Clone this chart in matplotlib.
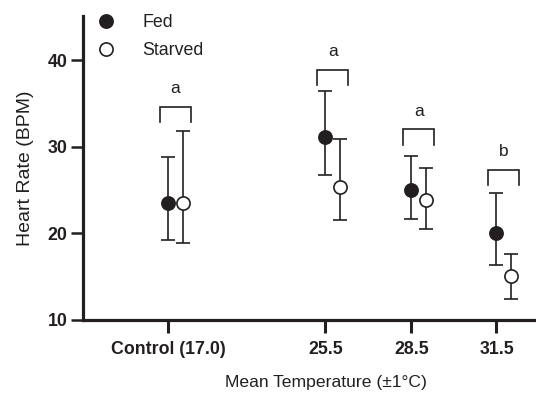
import matplotlib
matplotlib.use("Agg")
import matplotlib.pyplot as plt
from matplotlib.lines import Line2D
import numpy as np

plt.rcParams['font.family'] = ['Liberation Sans', 'DejaVu Sans']

# ---- data ----
categories = ['Control (17.0)', '25.5', '28.5', '31.5']
positions = [0.0, 1.83, 2.83, 3.82]
fed_mean = [23.5, 31.1, 25.0, 20.1]
fed_upper = [28.8, 36.4, 28.9, 24.7]
fed_lower = [19.2, 26.7, 21.7, 16.4]
starved_mean = [23.5, 25.4, 23.9, 15.1]
starved_upper = [31.8, 30.9, 27.6, 17.6]
starved_lower = [18.9, 21.5, 20.5, 12.4]
bracket_top = [34.6, 38.9, 32.0, 27.3]
letters = ['a', 'a', 'a', 'b']
series_names = ['Fed', 'Starved']

INK = '#231f20'
offset = 0.17

fig = plt.figure(figsize=(5.36, 3.99), dpi=100)
ax = fig.add_axes([83 / 536, 1 - 320 / 399, 1 - 83 / 536, (320 - 16) / 399])

pos = np.array(positions)
fm = np.array(fed_mean)
sm = np.array(starved_mean)
fed_err = [fm - np.array(fed_lower), np.array(fed_upper) - fm]
st_err = [sm - np.array(starved_lower), np.array(starved_upper) - sm]

ax.errorbar(pos, fm, yerr=fed_err, fmt='o', color=INK, mfc=INK, mec=INK,
            ms=9.5, mew=1.2, elinewidth=1.2, capsize=4.8, capthick=1.2, zorder=3)
ax.errorbar(pos + offset, sm, yerr=st_err, fmt='o', color=INK, mfc='white', mec=INK,
            ms=9.5, mew=1.2, elinewidth=1.2, capsize=4.8, capthick=1.2, zorder=3)

# significance brackets
for p, top, let in zip(pos, bracket_top, letters):
    x0, x1 = p - 0.095, p + offset + 0.095
    ax.plot([x0, x0, x1, x1], [top - 1.75, top, top, top - 1.75],
            color=INK, lw=1.2, solid_joinstyle='miter')
    ax.text((x0 + x1) / 2, top + 2.1, let, ha='center', va='center',
            fontsize=12.5, color=INK)

ax.set_xlim(-0.99, 4.28)
ax.set_ylim(10, 45.1)
ax.set_xticks(pos)
ax.set_xticklabels(categories, fontweight='bold', fontsize=12.8, color=INK)
ax.set_yticks([10, 20, 30, 40])
ax.set_yticklabels(['10', '20', '30', '40'], fontweight='bold', fontsize=12.8, color=INK)

for s in ['top', 'right']:
    ax.spines[s].set_visible(False)
for s in ['left', 'bottom']:
    ax.spines[s].set_linewidth(2.3)
    ax.spines[s].set_color(INK)
ax.tick_params(axis='y', length=9, width=1.8, pad=2, color=INK)
ax.tick_params(axis='x', length=9, width=2.2, pad=6, color=INK)

ax.set_ylabel('Heart Rate (BPM)', fontsize=14, color=INK, labelpad=10)
fig.text(326 / 536, 1 - 382 / 399, 'Mean Temperature (\u00b11\u00b0C)',
         ha='center', va='center', fontsize=12.6, color=INK)

handles = [
    Line2D([], [], ls='none', marker='o', ms=9.5, mfc=INK, mec=INK, mew=1.2),
    Line2D([], [], ls='none', marker='o', ms=9.5, mfc='white', mec=INK, mew=1.2),
]
ax.legend(handles, series_names, loc='upper left',
          bbox_to_anchor=(88 / 536, 1 - 14 / 399),
          bbox_transform=fig.transFigure, frameon=False, fontsize=12.8,
          borderpad=0, handlelength=2.0, handletextpad=1.05,
          labelspacing=0.62, borderaxespad=0, labelcolor=INK)

fig.savefig('out.png', dpi=100)
